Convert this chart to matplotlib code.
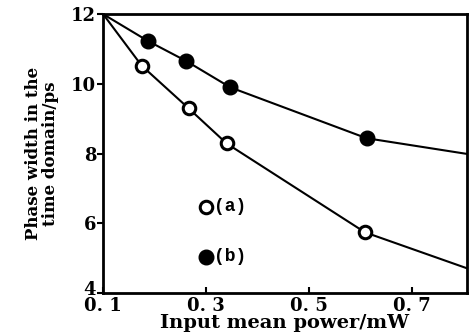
import matplotlib
matplotlib.use("Agg")
import matplotlib.pyplot as plt
import matplotlib.transforms as mtransforms

# series (a): open circles
power_a = [0.1, 0.175, 0.266, 0.340, 0.609, 0.807]
width_a = [12.0, 10.52, 9.30, 8.29, 5.74, 4.71]
marker_a = [False, True, True, True, True, False]

# series (b): filled circles
power_b = [0.1, 0.187, 0.262, 0.347, 0.612, 0.807]
width_b = [12.0, 11.23, 10.65, 9.90, 8.44, 7.99]
marker_b = [False, True, True, True, True, False]

legend_x = 0.30
legend_y = [6.47, 5.04]
legend_text = ["(a)", "(b)"]

xticks = [0.1, 0.3, 0.5, 0.7]
xtick_labels = ["0. 1", "0. 3", "0. 5", "0. 7"]
yticks = [4, 6, 8, 10, 12]

plt.rcParams["font.family"] = ["DejaVu Serif"]
plt.rcParams["font.weight"] = "bold"

fig = plt.figure(figsize=(4.73, 3.36), dpi=100)
ax = fig.add_axes([0.218, 0.128, 0.769, 0.830])

ax.plot(power_a, width_a, color="black", lw=1.5, zorder=2)
ax.plot(power_b, width_b, color="black", lw=1.5, zorder=2)

pa = [p for p, m in zip(power_a, marker_a) if m]
wa = [w for w, m in zip(width_a, marker_a) if m]
pb = [p for p, m in zip(power_b, marker_b) if m]
wb = [w for w, m in zip(width_b, marker_b) if m]
ax.plot(pa, wa, "o", ms=9, mfc="white", mec="black", mew=2.2, zorder=3)
ax.plot(pb, wb, "o", ms=10.5, mfc="black", mec="black", zorder=3)

# key markers drawn inside the axes
ax.plot(legend_x, legend_y[0], "o", ms=9, mfc="white", mec="black", mew=2.2)
ax.plot(legend_x, legend_y[1], "o", ms=10.5, mfc="black", mec="black")
for y, t in zip(legend_y, legend_text):
    ax.text(legend_x + 0.016, y, t, fontsize=13, fontweight="bold",
            va="center", ha="left", family="Liberation Mono")

ax.set_xlim(0.1, 0.807)
ax.set_ylim(4, 12)
ax.set_xticks(xticks)
ax.set_xticklabels(xtick_labels)
ax.set_yticks(yticks)

ax.tick_params(axis="x", direction="in", length=4, width=1.5, labelsize=13, pad=3)
ax.tick_params(axis="y", direction="out", length=4, width=1.5, labelsize=13, pad=1)
for lab in ax.get_xticklabels() + ax.get_yticklabels():
    lab.set_fontweight("bold")

# lift the bottom y label a little so it clears "0. 1"
lift = mtransforms.ScaledTranslation(0, 5 / 100, fig.dpi_scale_trans)
ylabs = ax.get_yticklabels()
ylabs[0].set_transform(ylabs[0].get_transform() + lift)

for s in ax.spines.values():
    s.set_linewidth(2)

ax.set_xlabel("Input mean power/mW", fontsize=14, fontweight="bold", labelpad=-1)
ax.set_ylabel("Phase width in the\ntime domain/ps", fontsize=12,
              fontweight="bold", labelpad=9, linespacing=0.95)

fig.savefig("out.png", dpi=100)
